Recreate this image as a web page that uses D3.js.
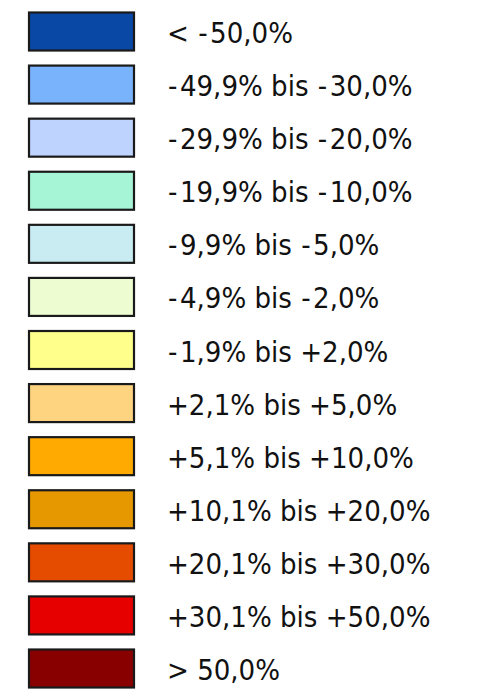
<!DOCTYPE html>
<html>
<head>
<meta charset="utf-8">
<script src="https://cdn.jsdelivr.net/npm/d3@7"></script>
<style>
  html, body { margin: 0; padding: 0; background: #fff; }
  text { font-family: "DejaVu Sans Condensed", "DejaVu Sans", sans-serif; font-stretch: condensed; }
</style>
</head>
<body>
<div id="legend"></div>
<script>
// classes of the legend, top to bottom
const classLabels = [
    "< -50,0%",
    "-49,9% bis -30,0%",
    "-29,9% bis -20,0%",
    "-19,9% bis -10,0%",
    "-9,9% bis -5,0%",
    "-4,9% bis -2,0%",
    "-1,9% bis +2,0%",
    "+2,1% bis +5,0%",
    "+5,1% bis +10,0%",
    "+10,1% bis +20,0%",
    "+20,1% bis +30,0%",
    "+30,1% bis +50,0%",
    "> 50,0%"
];
const classColors = [
    "#0a48a6", "#79b3fc", "#bfd3ff", "#a7f5d7", "#c9ecf3", "#edfdd1", "#ffff8c",
    "#ffd480", "#ffaa00", "#e69800", "#e64c00", "#e60000", "#890000"
];

function drawLegend() {
    const width = 478;
    const height = 697;
    const boxW = 105, boxH = 38;

    const svg = d3.select("#legend")
        .append("svg")
        .attr("width", width)
        .attr("height", height);

    const y = d3.scalePoint()
        .domain(classLabels)
        .range([12, 649]);

    const rows = svg.selectAll("g.row")
        .data(classLabels)
        .enter()
        .append("g")
        .attr("class", "row")
        .attr("transform", d => `translate(0,${y(d)})`);

    rows.append("rect")
        .attr("x", 29)
        .attr("y", 0.5)
        .attr("width", boxW)
        .attr("height", boxH)
        .attr("fill", (d, i) => classColors[i])
        .attr("stroke", "#1a1a1a")
        .attr("stroke-width", 2.2);

    const labels = rows.append("text")
        .attr("x", 167)
        .attr("y", boxH / 2 + 12)
        .style("font-size", "29px")
        .attr("fill", "#111");

    // the hyphens are a bit wider in the original font
    labels.each(function (d) {
        const t = d3.select(this);
        d.split(/(-)/).filter(s => s !== "").forEach(part => {
            const sp = t.append("tspan").text(part);
            if (part === "-") {
                sp.attr("dx", 1).style("letter-spacing", "2.5px");
            }
        });
    });
}

drawLegend();
</script>
</body>
</html>
